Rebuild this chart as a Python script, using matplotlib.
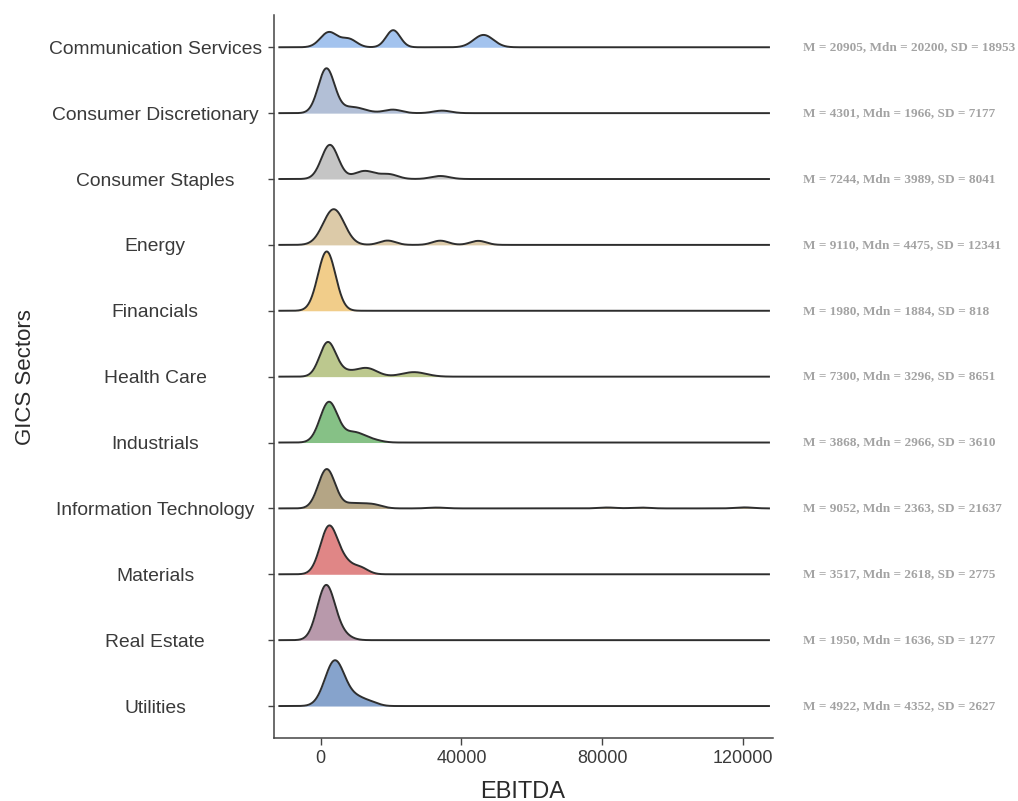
import numpy as np
import matplotlib
matplotlib.use("Agg")
import matplotlib.pyplot as plt

# GICS sectors, top row first
sectors = ["Communication Services", "Consumer Discretionary", "Consumer Staples",
           "Energy", "Financials", "Health Care", "Industrials",
           "Information Technology", "Materials", "Real Estate", "Utilities"]

fills = ["#a3c3ee", "#b2bfd6", "#c5c5c5", "#dccaa8", "#f1cd8a", "#bcc88e",
         "#86c186", "#b4a585", "#e08686", "#b899ab", "#86a3cc"]

# density shape per sector: bump centres, spreads (EBITDA) and relative heights
centers = [
    [2300, 8000, 20600, 46300],
    [1600, 9000, 20500, 34500],
    [2600, 12500, 19500, 34000],
    [3700, 19000, 34000, 44800],
    [1700],
    [2000, 7000, 13000, 26500],
    [2300, 9500, 15000],
    [1700, 9500, 15000, 33000, 81500, 91000, 120500],
    [2400, 7000, 11000],
    [1500, 6000],
    [4000, 10500, 15000],
]
spreads = [
    [2400, 2200, 2000, 2800],
    [2300, 3500, 2500, 2500],
    [2400, 3000, 2500, 2600],
    [3000, 2300, 2300, 2300],
    [2500],
    [2300, 2500, 3000, 3500],
    [2500, 3000, 2500],
    [2400, 3000, 2500, 2500, 2500, 2500, 2500],
    [2500, 2000, 2300],
    [2500, 2500],
    [2800, 2800, 2000],
]
heights = [
    [0.254, 0.136, 0.288, 0.208],
    [0.746, 0.102, 0.059, 0.042],
    [0.576, 0.136, 0.076, 0.051],
    [0.602, 0.073, 0.071, 0.068],
    [1.0],
    [0.576, 0.068, 0.144, 0.076],
    [0.678, 0.169, 0.034],
    [0.661, 0.085, 0.059, 0.014, 0.015, 0.014, 0.017],
    [0.814, 0.136, 0.119],
    [0.915, 0.085],
    [0.763, 0.136, 0.034],
]

means = [20905, 4301, 7244, 9110, 1980, 7300, 3868, 9052, 3517, 1950, 4922]
medians = [20200, 1966, 3989, 4475, 1884, 3296, 2966, 2363, 2618, 1636, 4352]
sds = [18953, 7177, 8041, 12341, 818, 8651, 3610, 21637, 2775, 1277, 2627]

x_ticks = [0, 40000, 80000, 120000]

scale = 0.9
x = np.linspace(-11770, 127480, 1200)

fig = plt.figure(figsize=(10.18, 8.01), dpi=100)
ax = fig.add_axes([0.2692, 0.0790, 0.4898, 0.9023])

n = len(sectors)
for i, name in enumerate(sectors):
    base = n - i
    dens = np.zeros_like(x)
    for c, s, h in zip(centers[i], spreads[i], heights[i]):
        dens += h * np.exp(-0.5 * ((x - c) / s) ** 2)
    top = base + scale * dens
    ax.fill_between(x, base, top, color=fills[i], lw=0, zorder=2 * i + 1)
    ax.plot(x, top, color="#2e2e2e", lw=1.4, zorder=2 * i + 2)
    label = f"M = {means[i]}, Mdn = {medians[i]}, SD = {sds[i]}"
    ax.text(137200, base, label, ha="left", va="center", fontsize=9.5,
            family="Liberation Serif", fontweight="bold", color="#a3a3a3",
            clip_on=False)

ax.set_xlim(-13280, 128530)
ax.set_ylim(0.519, 11.49)

ax.set_yticks(np.arange(n, 0, -1))
ax.set_yticklabels(sectors, ha="center", family="Liberation Sans",
                   fontsize=13.9, color="#3a3a3a")
ax.set_xticks(x_ticks)
ax.set_xticklabels([str(t) for t in x_ticks], family="Liberation Sans",
                   fontsize=13, color="#3a3a3a")
ax.tick_params(axis="y", length=4.5, width=1, color="#444444", pad=81)
ax.tick_params(axis="x", length=4.8, width=1, color="#444444", pad=4)

for side in ["top", "right"]:
    ax.spines[side].set_visible(False)
for side in ["left", "bottom"]:
    ax.spines[side].set_color("#444444")
    ax.spines[side].set_linewidth(1.1)

fig.text(523 / 1018, 1 - 798 / 801, "EBITDA", ha="center", va="baseline",
         family="Liberation Sans", fontsize=17, color="#2b2b2b")
fig.text(31 / 1018, 1 - 377 / 801, "GICS Sectors", ha="center", va="baseline",
         rotation=90, rotation_mode="anchor", family="Liberation Sans",
         fontsize=16, color="#2b2b2b")

fig.savefig("out.png", dpi=100)
